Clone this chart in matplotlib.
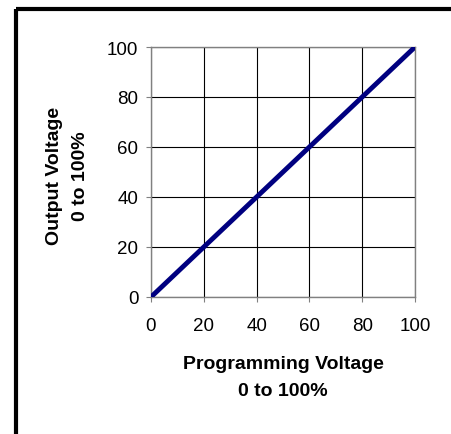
import matplotlib
matplotlib.use("Agg")
import matplotlib.pyplot as plt
from matplotlib.patches import Rectangle

programming = [0, 20, 40, 60, 80, 100]
output = [0, 20, 40, 60, 80, 100]
x_ticks = [0, 20, 40, 60, 80, 100]
y_ticks = [0, 20, 40, 60, 80, 100]

plt.rcParams['font.family'] = ['Liberation Sans', 'DejaVu Sans']

W, H = 451, 435
fig = plt.figure(figsize=(W / 100, H / 100), dpi=100)
fig.patch.set_facecolor('white')

# outer frame
fig.patches.append(Rectangle((16 / W, 1 - 10 / H), 1.0, -1.2, transform=fig.transFigure,
                             fill=False, edgecolor='black', linewidth=3.0, zorder=0))

ax = fig.add_axes([151 / W, (H - 298) / H, 264 / W, 250 / H])
ax.plot(programming, output, color='#000080', linewidth=3.5, solid_capstyle='butt', zorder=3)
ax.set_xlim(0, 100)
ax.set_ylim(0, 100)
ax.set_xticks(x_ticks)
ax.set_yticks(y_ticks)
ax.grid(True, color='black', linewidth=0.8)
for s in ax.spines.values():
    s.set_color('#808080')
    s.set_linewidth(1.0)
ax.tick_params(axis='both', direction='out', length=3.5, width=0.8, color='#808080',
               labelsize=13.5, labelcolor='black')
ax.tick_params(axis='x', pad=11)
ax.tick_params(axis='y', pad=5.5)

ax.text(0.5, (298 - 378) / 250, 'Programming Voltage\n0 to 100%', transform=ax.transAxes,
        ha='center', va='center', fontsize=14, fontweight='bold', linespacing=1.75)
ax.text((67.5 - 151) / 264, (298 - 176) / 250, 'Output Voltage\n0 to 100%', transform=ax.transAxes,
        ha='center', va='center', fontsize=14, fontweight='bold', linespacing=1.75,
        rotation=90, multialignment='center')

fig.savefig('out.png', dpi=100)
